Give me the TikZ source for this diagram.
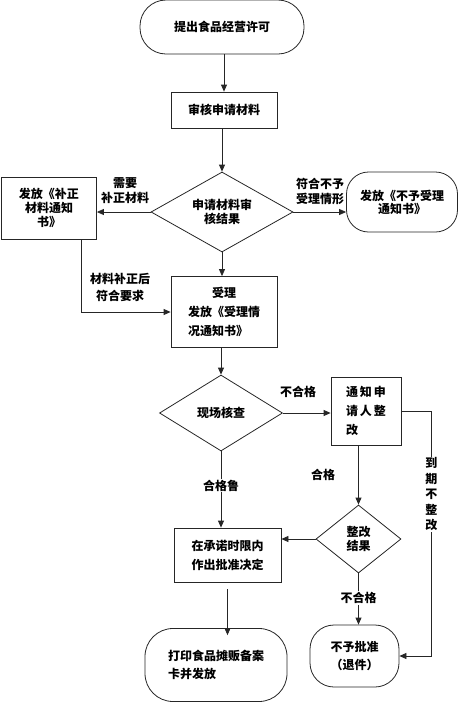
\documentclass[tikz,border=0pt]{standalone}
\usepackage{fontspec}
\setmainfont{Noto Sans CJK SC}
\usepackage{tikz}
\usetikzlibrary{arrows.meta,positioning,shapes.geometric}
\tikzset{
  fcbox/.style={draw=black!85, line width=0.8pt, align=center, inner sep=0pt, font=\bfseries\fontsize{12}{19}\selectfont},
  fcterm/.style={draw=black!85, line width=0.8pt, rounded corners=24pt, align=center, inner sep=0pt, font=\bfseries\fontsize{12}{18}\selectfont},
  fcdec/.style={draw=black!85, line width=0.8pt, diamond, aspect=1.6, align=center, inner sep=0pt, font=\bfseries\fontsize{12}{14}\selectfont},
  fcnote/.style={align=center, inner sep=1pt, font=\bfseries\fontsize{12}{16}\selectfont},
  fcarrow/.style={-{Triangle[length=7pt,width=6pt]}, draw=black!85, line width=0.8pt},
  fcline/.style={draw=black!85, line width=0.8pt}
}
\begin{document}
\begin{tikzpicture}[x=1pt,y=-1pt]
\useasboundingbox (0,0) rectangle (464,702);
\node[fcterm, minimum width=164pt, minimum height=54pt, rounded corners=26pt] (start) at (222,27) {提出食品经营许可};
\node[fcbox, minimum width=106pt, minimum height=36pt] (review) at (224,110) {审核申请材料};
\node[fcdec, minimum width=142pt, minimum height=80pt] (check) at (222,212) {申请材料审\\核结果};
\node[fcbox, minimum width=95pt, minimum height=62pt, font=\bfseries\fontsize{12}{14}\selectfont] (supply) at (49,208) {发放《补正\\材料通知\\书》};
\node[fcterm, minimum width=111pt, minimum height=60pt, rounded corners=22pt, font=\bfseries\fontsize{12}{13}\selectfont] (noaccept) at (402,202) {发放《不予受理\\通知书》};
\node[fcbox, minimum width=106pt, minimum height=71pt, align=left] (accept) at (224,312) {\hspace*{2em}受理\\发放《受理情\\况通知书》};
\node[fcdec, minimum width=123pt, minimum height=76pt] (site) at (221,413) {现场核查};
\node[fcbox, minimum width=70pt, minimum height=68pt, align=left] (notify) at (366,411) {通\hspace{2pt}知\hspace{2pt}申\\请\hspace{2pt}人\hspace{2pt}整\\改};
\node[fcbox, minimum width=107pt, minimum height=54pt] (approve) at (227.5,555) {在承诺时限内\\作出批准决定};
\node[fcdec, minimum width=85pt, minimum height=68pt] (result) at (358.5,539) {整改\\结果};
\node[fcterm, minimum width=142pt, minimum height=73pt, rounded corners=28pt, align=left] (print) at (216,665) {打印食品摊贩备案\\卡并发放};
\node[fcterm, minimum width=89pt, minimum height=62pt, rounded corners=24pt] (refuse) at (354.5,656) {不予批准\\（退件）};
% labels
\node[fcnote, font=\bfseries\fontsize{12}{15}\selectfont] (lbneed) at (125,191) {需要\\补正材料};
\node[fcnote, font=\bfseries\fontsize{12}{15}\selectfont] (lbnot) at (320,191) {符合不予\\受理情形};
\node[fcnote, font=\bfseries\fontsize{12}{17}\selectfont] (lbfixed) at (120,287) {材料补正后\\符合要求};
\node[fcnote] (lbfail) at (298,392) {不合格};
\node[fcnote] (lbpass) at (323,475) {合格};
% connectors
\draw[fcarrow] (review.north |- start.south) -- (review.north);
\draw[fcarrow] (review.south -| check.north) -- (check.north);
\draw[fcarrow] (check.west) -- (check.west -| supply.east);
\draw[fcarrow] (check.east) -- (check.east -| noaccept.west);
\draw[fcarrow] ([xshift=32pt]supply.south) |- (accept.west);
\draw[fcarrow] (check.south) -- (check.south |- accept.north);
\draw[fcarrow] (accept.south -| site.north) -- (site.north);
\draw[fcarrow] (site.east) -- (site.east -| notify.west);
\draw[fcarrow] (site.south) -- node[fcnote, fill=white, pos=0.45] (lbok) {合格鲁} (site.south |- approve.north);
\draw[fcarrow] (result.north |- notify.south) -- (result.north);
\draw[fcarrow] (result.west) -- (result.west -| approve.east);
\draw[fcarrow] (result.south) -- node[fcnote, fill=white, pos=0.48] (lbfail2) {不合格} (result.south |- refuse.north);
\draw[fcarrow] ([yshift=-7pt]approve.south) -- ([yshift=-7pt]approve.south |- print.north);
\draw[fcarrow] (notify.east) -- ++(30,0) |- node[fcnote, fill=white, pos=0.17, font=\bfseries\fontsize{12}{15.5}\selectfont] (lbdue) {到\\期\\不\\整\\改} (refuse.east);
\end{tikzpicture}
\end{document}
